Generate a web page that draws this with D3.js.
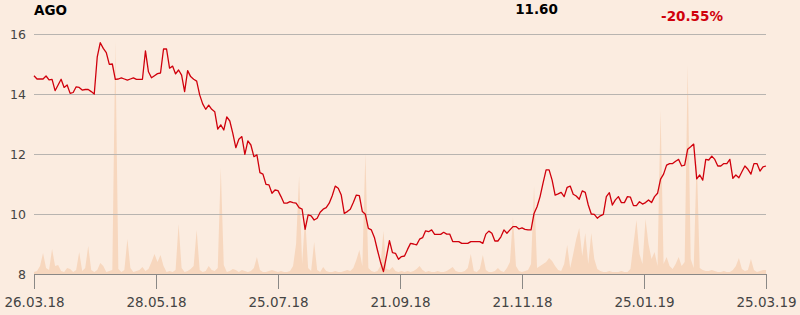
<!DOCTYPE html>
<html>
<head>
<meta charset="utf-8">
<script src="https://cdn.jsdelivr.net/npm/d3@7"></script>
<style>
    html, body { margin: 0; padding: 0; background: #fbece0; }
    svg { display: block; font-family: "DejaVu Sans", sans-serif; }
</style>
</head>
<body>
<svg width="800" height="315"></svg>
<script>
// 标题数据
const symbol = "AGO";
const lastPrice = "11.60";
const changePct = "-20.55%";

// x 轴刻度标签 (按交易日均匀分布)
const tickLabels = ["26.03.18", "28.05.18", "25.07.18", "21.09.18", "21.11.18", "25.01.19", "25.03.19"];
const yTicks = [8, 10, 12, 14, 16];

// 收盘价 (每个交易日一个值)
const prices = [
    14.61, 14.50, 14.50, 14.50, 14.60, 14.47, 14.49, 14.11, 14.30, 14.49,
    14.22, 14.30, 14.02, 14.05, 14.24, 14.22, 14.13, 14.15, 14.15, 14.08,
    14.00, 15.24, 15.71, 15.52, 15.38, 14.99, 15.00, 14.49, 14.50, 14.54,
    14.50, 14.46, 14.50, 14.54, 14.49, 14.49, 14.49, 15.44, 14.74, 14.54,
    14.61, 14.68, 14.70,
    15.50, 15.50, 14.86, 14.93, 14.67, 14.80, 14.63, 14.08, 14.78, 14.58,
    14.49, 14.43, 13.97, 13.67, 13.49, 13.63, 13.49, 13.41, 12.83, 12.97,
    12.80, 13.24, 13.10, 12.69, 12.21, 12.49, 12.58, 11.99, 12.44, 12.30,
    11.91, 11.97, 11.38, 11.33, 10.99, 10.97, 10.69, 10.80, 10.78,
    10.58, 10.36, 10.36, 10.41, 10.38, 10.36, 10.21, 10.16, 9.49, 9.97,
    9.94, 9.80, 9.86, 10.06, 10.16, 10.21, 10.36, 10.61, 10.93, 10.86,
    10.63, 10.02, 10.08, 10.16, 10.38, 10.63, 10.61, 10.08, 9.99, 9.52,
    9.47, 9.22, 8.80, 8.41, 8.08, 8.58, 9.11, 8.71, 8.69, 8.49,
    8.58, 8.60, 8.82,
    9.02, 9.00, 8.97, 9.16, 9.21, 9.44, 9.41, 9.47, 9.32, 9.32,
    9.32, 9.39, 9.33, 9.33, 9.08, 9.08, 9.08, 9.02, 9.02, 9.02,
    9.08, 9.08, 9.08, 9.08, 9.02, 9.33, 9.43, 9.36, 9.10, 9.10,
    9.24, 9.47, 9.36, 9.47, 9.58, 9.58, 9.50, 9.54, 9.49,
    9.47, 9.47, 10.02, 10.24, 10.58, 11.04, 11.47, 11.47, 11.13, 10.63,
    10.67, 10.72, 10.58, 10.89, 10.93, 10.66, 10.60, 10.49, 10.77, 10.72,
    10.30, 10.00, 9.99, 9.86, 9.94, 9.99, 10.58, 10.71, 10.30, 10.47,
    10.58, 10.38, 10.38, 10.58, 10.56, 10.28, 10.28, 10.41, 10.33, 10.38,
    10.47, 10.38, 10.58, 10.69, 11.16, 11.33, 11.63, 11.68, 11.68, 11.76,
    11.82, 11.60, 11.63, 12.16, 12.24, 12.33, 11.17, 11.30, 11.13, 11.82,
    11.80, 11.93, 11.82, 11.60, 11.60, 11.68, 11.68, 11.82, 11.19, 11.30,
    11.21, 11.41, 11.60, 11.49, 11.33, 11.68, 11.68, 11.43, 11.57, 11.60
];

// 成交量 (千股)
const volumes = [
    2, 3, 8, 21, 6, 4, 25, 8, 9, 3, 2, 6, 5, 2, 4, 22, 3, 6, 28, 4,
    2, 4, 11, 8, 2, 3, 4, 233, 5, 2, 4, 35, 6, 2, 3, 4, 7, 3, 5, 12,
    20, 12, 19, 8, 2, 3, 2, 4, 50, 6, 2, 3, 5, 8, 44, 4, 2, 3, 8, 4,
    3, 6, 106, 9, 2, 3, 5, 4, 2, 4, 3, 2, 3, 6, 17, 4, 2, 2, 3, 4,
    3, 2, 3, 2, 2, 3, 8, 30, 98, 10, 57, 6, 3, 32, 4, 2, 7, 3, 2, 2,
    3, 2, 2, 3, 4, 3, 6, 14, 24, 8, 121, 6, 3, 2, 3, 8, 43, 5, 4, 7,
    3, 2, 3, 2, 3, 2, 3, 5, 8, 4, 2, 3, 2, 2, 3, 2, 2, 3, 5, 7,
    3, 2, 2, 3, 6, 20, 3, 2, 5, 19, 4, 2, 2, 3, 6, 3, 2, 6, 12, 57,
    8, 3, 2, 3, 4, 10, 88, 6, 8, 10, 12, 16, 13, 8, 4, 3, 10, 29, 6, 20,
    35, 46, 18, 41, 10, 41, 15, 5, 3, 2, 2, 3, 2, 2, 2, 3, 2, 2, 5, 30,
    54, 20, 10, 55, 30, 15, 22, 8, 164, 10, 17, 8, 5, 10, 17, 8, 12, 209, 15, 6,
    117, 6, 4, 3, 3, 4, 3, 2, 2, 3, 2, 2, 4, 8, 16, 5, 3, 4, 15, 4,
    2, 3, 4, 4
];

const svg = d3.select("svg");
const margin = { left: 34, right: 34, top: 34, bottom: 41 };
const width = 800, height = 315;

const n = prices.length;
const x = d3.scaleLinear().domain([0, n - 1]).range([margin.left, width - margin.right]);
const y = d3.scaleLinear().domain([8, 16]).range([height - margin.bottom, margin.top]);
const yVol = d3.scaleLinear().domain([0, 240]).range([height - margin.bottom, margin.top]);

// 成交量面积 (最底层)
const area = d3.area()
    .x((d, i) => x(i))
    .y0(yVol(0))
    .y1(d => yVol(d));

svg.append("path")
    .datum(volumes.slice(0, n))
    .attr("fill", "#f7d7be")
    .attr("d", area);

// 水平网格线 + y 轴标签
const yAxis = d3.axisLeft(y)
    .tickValues(yTicks)
    .tickSize(-(width - margin.left - margin.right))
    .tickPadding(8)
    .tickFormat(d3.format("d"));

const gy = svg.append("g")
    .attr("transform", `translate(${margin.left},0)`)
    .call(yAxis);
gy.select(".domain").remove();
gy.selectAll(".tick line").attr("stroke", "#b8b4b0").attr("shape-rendering", "crispEdges");
gy.selectAll(".tick text")
    .attr("fill", "#444")
    .attr("font-size", "12.5px")
    .attr("font-family", "DejaVu Sans, sans-serif");

// x 轴
const tickIdx = tickLabels.map((t, k) => k * (n - 1) / (tickLabels.length - 1));
const xAxis = d3.axisBottom(x)
    .tickValues(tickIdx)
    .tickSize(15)
    .tickPadding(8)
    .tickFormat((d, k) => tickLabels[k]);

const gx = svg.append("g")
    .attr("transform", `translate(0,${height - margin.bottom})`)
    .call(xAxis);
gx.select(".domain").attr("stroke", "#8a8886").attr("shape-rendering", "crispEdges");
gx.selectAll(".tick line").attr("stroke", "#8a8886").attr("shape-rendering", "crispEdges");
gx.selectAll(".tick text")
    .attr("fill", "#444")
    .attr("font-size", "13.5px")
    .attr("font-family", "DejaVu Sans, sans-serif");

// 价格折线
const line = d3.line()
    .x((d, i) => x(i))
    .y(d => y(d));

svg.append("path")
    .datum(prices)
    .attr("fill", "none")
    .attr("stroke", "#d0000c")
    .attr("stroke-width", 1.3)
    .attr("stroke-linejoin", "round")
    .attr("d", line);

// 标题
svg.append("text")
    .attr("x", margin.left).attr("y", 15)
    .attr("font-size", "13.5px").attr("font-weight", "bold")
    .attr("fill", "#000")
    .text(symbol);

svg.append("text")
    .attr("x", 536.5).attr("y", 14)
    .attr("text-anchor", "middle")
    .attr("font-size", "13.5px").attr("font-weight", "bold")
    .attr("fill", "#000")
    .text(lastPrice);

svg.append("text")
    .attr("x", 692).attr("y", 21)
    .attr("text-anchor", "middle")
    .attr("font-size", "13.5px").attr("font-weight", "bold")
    .attr("fill", "#d0000c")
    .text(changePct);
</script>
</body>
</html>
